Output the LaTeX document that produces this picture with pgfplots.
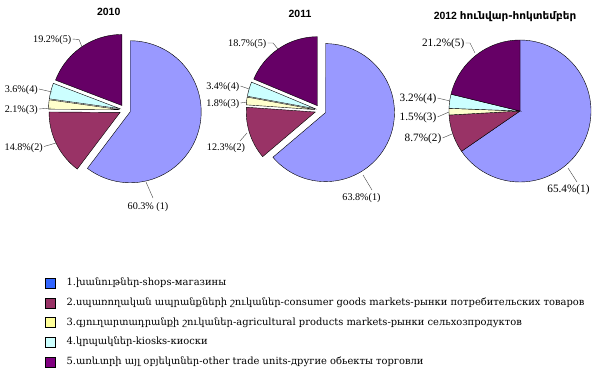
\documentclass[border=0pt]{standalone}
\usepackage{fontspec}
\setmainfont{Liberation Serif}
\newfontfamily\legfont{DejaVu Serif}
\newfontfamily\titlefont{Liberation Sans}
\newfontfamily\armtitle{DejaVu Sans}
\usepackage{pgfplots}
\pgfplotsset{compat=1.18}
\definecolor{cA}{HTML}{9999FF}
\definecolor{cB}{HTML}{993366}
\definecolor{cC}{HTML}{FFFFCC}
\definecolor{cD}{HTML}{CCFFFF}
\definecolor{cE}{HTML}{660066}
\definecolor{lA}{HTML}{3366FF}
\definecolor{lB}{HTML}{993366}
\definecolor{lC}{HTML}{FFFF99}
\definecolor{lD}{HTML}{CCFFFF}
\definecolor{lE}{HTML}{800080}
\newcommand\pieinit{\gdef\cum{0}}
% #1 cx, #2 cy, #3 radius, #4 value (percent), #5 colour, #6 explode
\newcommand\slice[6]{%
  \pgfmathsetmacro\aS{90-3.6*(\cum+#4)}%
  \pgfmathsetmacro\aE{90-3.6*\cum}%
  \pgfmathsetmacro\aM{(\aS+\aE)/2}%
  \pgfmathsetmacro\ox{#1+#6*cos(\aM)}%
  \pgfmathsetmacro\oy{#2-#6*sin(\aM)}%
  \pgfmathsetmacro\nc{\cum+#4}\xdef\cum{\nc}%
  \edef\doslice{\noexpand\addplot[forget plot,mark=none,draw=black,line width=0.4pt,fill=#5,domain=\aS:\aE,samples=60,variable=\noexpand\t]
     ({\ox+#3*cos(\noexpand\t)},{\oy-#3*sin(\noexpand\t)}) -- (axis cs:\ox,\oy) -- cycle;}%
  \doslice}
\newcommand\sq[1]{\addlegendimage{legend image code/.code={\draw[black,line width=0.4pt,fill=#1] (0bp,-5bp) rectangle (10bp,5bp); \path (21bp,0bp);}}}
\begin{document}
\begin{tikzpicture}
\begin{axis}[name=ax,
  width=600bp, height=387bp, scale only axis,
  xmin=0, xmax=600, ymin=0, ymax=387, y dir=reverse,
  hide axis, clip=false,
  legend cell align=left,
  legend style={at={(axis cs:45,277.7)}, anchor=north west, draw=none, fill=none,
    inner sep=0pt, row sep=9.3bp,
    font=\legfont\fontsize{9.95}{11}\selectfont,
    nodes={inner sep=0pt, text height=7.5bp, text depth=2.5bp}},
]
\sq{lA}\addlegendentry{1.խանութներ-shops-магазины}
\sq{lB}\addlegendentry{2.սպառողական ապրանքների շուկաներ-consumer goods markets-рынки потребительских товаров}
\sq{lC}\addlegendentry{3.գյուղարտադրանքի շուկաներ-agricultural products markets-рынки сельхозпродуктов}
\sq{lD}\addlegendentry{4.կրպակներ-kiosks-киоски}
\sq{lE}\addlegendentry{5.առևտրի այլ օբյեկտներ-other trade units-другие обьекты торговли}

% 2010
\pieinit
\slice{125}{110}{71}{60.3}{cA}{5.5}
\slice{125}{110}{71}{14.8}{cB}{5.5}
\slice{125}{110}{71}{2.1}{cC}{5.5}
\slice{125}{110}{71}{3.6}{cD}{5.5}
\slice{125}{110}{71}{19.2}{cE}{5.5}
% 2011
\pieinit
\slice{320.5}{110.3}{69}{63.8}{cA}{5.5}
\slice{320.5}{110.3}{69}{12.3}{cB}{5.5}
\slice{320.5}{110.3}{69}{1.8}{cC}{5.5}
\slice{320.5}{110.3}{69}{3.4}{cD}{5.5}
\slice{320.5}{110.3}{69}{18.7}{cE}{5.5}
% 2012
\pieinit
\slice{520}{111}{71}{65.4}{cA}{0}
\slice{520}{111}{71}{8.7}{cB}{0}
\slice{520}{111}{71}{1.5}{cC}{0}
\slice{520}{111}{71}{3.2}{cD}{0}
\slice{520}{111}{71}{21.2}{cE}{0}

% titles
\node[font=\titlefont\bfseries\fontsize{10.5}{12}\selectfont] at (axis cs:108.7,11.5) {2010};
\node[font=\titlefont\bfseries\fontsize{10.5}{12}\selectfont] at (axis cs:300,13.5) {2011};
\node[font=\titlefont\bfseries\fontsize{10.5}{12}\selectfont] at (axis cs:505,17) {2012 {\armtitle հունվար-հոկտեմբեր}};

% labels 2010
\begin{scope}[every node/.style={font=\fontsize{10.2}{12}\selectfont, inner sep=0.5pt}]
\node[anchor=east] at (axis cs:72,40) {19.2\%(5)};
\draw[black!75,line width=0.4pt] (axis cs:72.5,39) -- (axis cs:79,39.5) -- (axis cs:82,47);
\node[anchor=east] at (axis cs:38.5,90) {3.6\%(4)};
\draw[black!75,line width=0.4pt] (axis cs:39,89) -- (axis cs:52,92);
\node[anchor=east] at (axis cs:38.5,110) {2.1\%(3)};
\draw[black!75,line width=0.4pt] (axis cs:39,109) -- (axis cs:51,108);
\node[anchor=east] at (axis cs:43.5,148) {14.8\%(2)};
\draw[black!75,line width=0.4pt] (axis cs:44,146.5) -- (axis cs:56,143);
\node at (axis cs:148,207) {60.3\% (1)};
\draw[black!75,line width=0.4pt] (axis cs:153,198) -- (axis cs:146,182);
% labels 2011
\node[anchor=east] at (axis cs:267,44) {18.7\%(5)};
\draw[black!75,line width=0.4pt] (axis cs:267.5,43) -- (axis cs:273,43) -- (axis cs:278,49);
\node[anchor=east] at (axis cs:240,87) {3.4\%(4)};
\draw[black!75,line width=0.4pt] (axis cs:240.5,86) -- (axis cs:249,89);
\node[anchor=east] at (axis cs:240,104) {1.8\%(3)};
\draw[black!75,line width=0.4pt] (axis cs:240.5,103) -- (axis cs:247,102);
\node at (axis cs:226,148) {12.3\%(2)};
\draw[black!75,line width=0.4pt] (axis cs:240,141) -- (axis cs:247,133);
\node at (axis cs:361.5,198) {63.8\%(1)};
\draw[black!75,line width=0.4pt] (axis cs:372,190) -- (axis cs:363,175);
\end{scope}
% labels 2012
\begin{scope}[every node/.style={font=\fontsize{11.3}{13}\selectfont, inner sep=0.5pt}]
\node[anchor=east] at (axis cs:465,44) {21.2\%(5)};
\draw[black!75,line width=0.4pt] (axis cs:465.5,43) -- (axis cs:470,43) -- (axis cs:475,53);
\node[anchor=east] at (axis cs:437,99) {3.2\%(4)};
\draw[black!75,line width=0.4pt] (axis cs:437.5,98) -- (axis cs:450,101);
\node[anchor=east] at (axis cs:437,118) {1.5\%(3)};
\draw[black!75,line width=0.4pt] (axis cs:437.5,117) -- (axis cs:449,112);
\node[anchor=east] at (axis cs:442,139) {8.7\%(2)};
\draw[black!75,line width=0.4pt] (axis cs:442.5,138) -- (axis cs:452,134);
\node at (axis cs:568.5,190) {65.4\%(1)};
\draw[black!75,line width=0.4pt] (axis cs:577,182) -- (axis cs:568,168);
\end{scope}
\end{axis}
\path (ax.south west) rectangle (ax.north east);
\end{tikzpicture}
\end{document}
